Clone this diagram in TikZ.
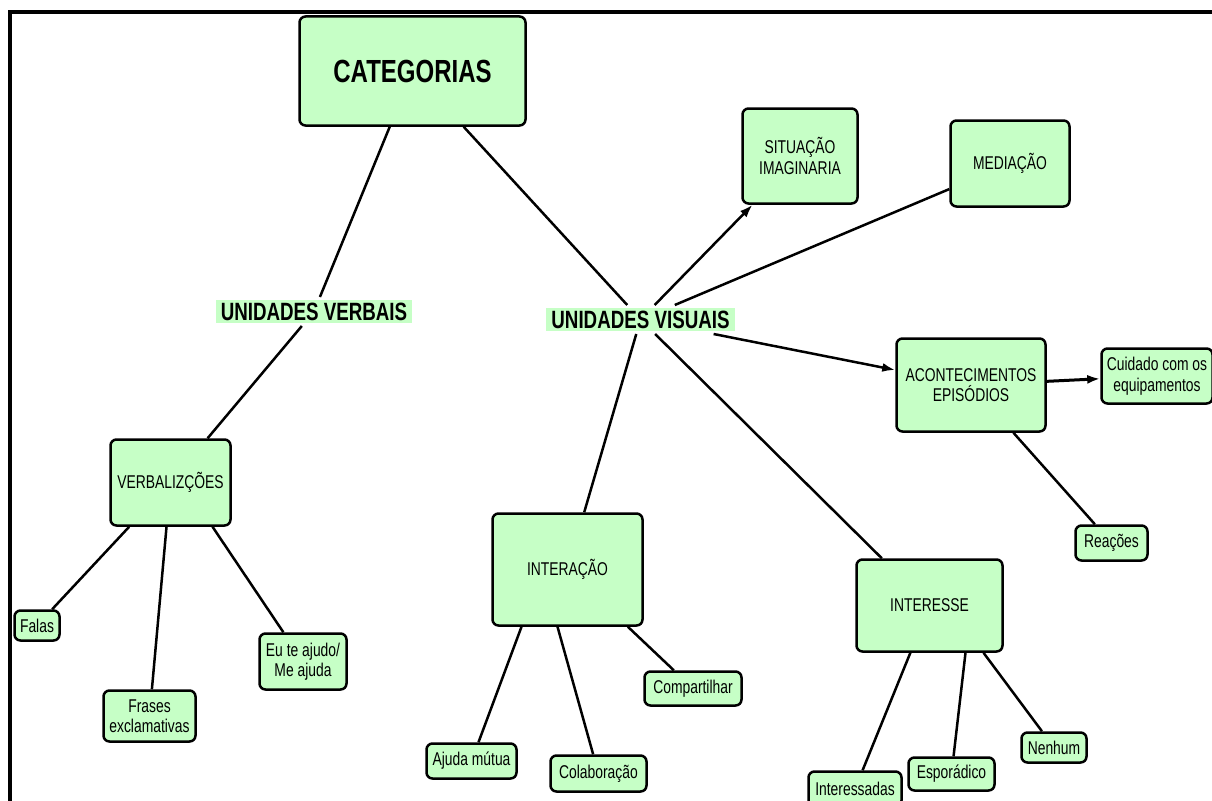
\documentclass[tikz,border=0pt]{standalone}
\usepackage{fontspec}
\setmainfont{Liberation Sans}[FakeStretch=0.75]
\usetikzlibrary{arrows.meta}
\definecolor{boxgreen}{RGB}{198,255,198}
\tikzset{
  box/.style={draw, line width=2.5pt, rounded corners=6pt, fill=boxgreen,
    align=center, inner sep=2pt, font=\fontsize{18.5}{20.5}\selectfont},
  unitlabel/.style={fill=boxgreen, inner sep=0pt, outer sep=3pt,
    font=\bfseries\fontsize{25}{27}\selectfont},
  link/.style={line width=2.5pt}
}
\begin{document}
\begin{tikzpicture}[x=1pt, y=-1pt, >={Latex[length=13pt,width=9pt]}]
  \useasboundingbox (0,0) rectangle (1212,800);
  \clip (0,0) rectangle (1212,800);
  \draw [line width=4pt] (9.5,12) rectangle (1240,830);
  % top
  \node (cat) at (412.5,71) [box, minimum width=226pt, minimum height=109pt,
    font=\bfseries\fontsize{32}{36}\selectfont] {CATEGORIAS};
  \node (uverb) at (314,311.5) [unitlabel, minimum width=196pt, minimum height=23pt] {UNIDADES VERBAIS};
  \node (uvis) at (640.5,319.5) [unitlabel, minimum width=189pt, minimum height=23pt] {UNIDADES VISUAIS};
  % verbal side
  \node (verb) at (170.5,482.5) [box, minimum width=120pt, minimum height=86pt] {VERBALIZÇÕES};
  \node (falas) at (37,625.5) [box, minimum width=45pt, minimum height=30pt] {Falas};
  \node (frases) at (149.5,716) [box, minimum width=92pt, minimum height=51pt] {Frases\\exclamativas};
  \node (eu) at (303,661.5) [box, minimum width=87pt, minimum height=56pt] {Eu te ajudo/\\Me ajuda};
  % visual side
  \node (sit) at (800,156) [box, minimum width=115pt, minimum height=95pt] {SITUAÇÃO\\IMAGINARIA};
  \node (med) at (1010,163.5) [box, minimum width=119pt, minimum height=86pt] {MEDIAÇÃO};
  \node (acont) at (971,385) [box, minimum width=149pt, minimum height=93pt] {ACONTECIMENTOS\\EPISÓDIOS};
  \node (cuid) at (1157,376) [box, minimum width=111pt, minimum height=55pt] {Cuidado com os\\equipamentos};
  \node (reac) at (1111.5,543) [box, minimum width=72pt, minimum height=35pt] {Reações};
  \node (inter) at (567.5,569.5) [box, minimum width=150pt, minimum height=112pt] {INTERAÇÃO};
  \node (ajuda) at (471.5,761) [box, minimum width=90pt, minimum height=35pt] {Ajuda mútua};
  \node (colab) at (598.5,773.5) [box, minimum width=96pt, minimum height=36pt] {Colaboração};
  \node (comp) at (693,688.5) [box, minimum width=97pt, minimum height=34pt] {Compartilhar};
  \node (ints) at (929.5,605.5) [box, minimum width=146pt, minimum height=92pt] {INTERESSE};
  \node (intsd) at (855,789) [box, minimum width=93pt, minimum height=35pt] {Interessadas};
  \node (esp) at (951.5,774) [box, minimum width=86pt, minimum height=33pt] {Esporádico};
  \node (nen) at (1054,747.5) [box, minimum width=65pt, minimum height=30pt] {Nenhum};
  % connectors
  \draw [link] (cat) -- (uverb);
  \draw [link] (cat) -- (uvis);
  \draw [link] (uverb) -- (verb);
  \draw [link] (verb) -- (falas);
  \draw [link] (verb) -- (frases);
  \draw [link] ([xshift=42pt]verb.south) -- (eu);
  \draw [link, ->] (uvis) -- (sit);
  \draw [link] (uvis) -- (med);
  \draw [link, ->] (uvis) -- (acont);
  \draw [link, line width=3pt, ->] (acont) -- (cuid);
  \draw [link] (acont) -- (reac);
  \draw [link] (uvis) -- (inter);
  \draw [link] (uvis) -- (ints);
  \draw [link] ([xshift=-46pt]inter.south) -- (ajuda);
  \draw [link] ([xshift=-10pt]inter.south) -- (colab);
  \draw [link] (inter) -- (comp);
  \draw [link] (ints) -- (intsd);
  \draw [link] ([xshift=36pt]ints.south) -- (esp);
  \draw [link] ([xshift=54pt]ints.south) -- (nen);
\end{tikzpicture}
\end{document}
